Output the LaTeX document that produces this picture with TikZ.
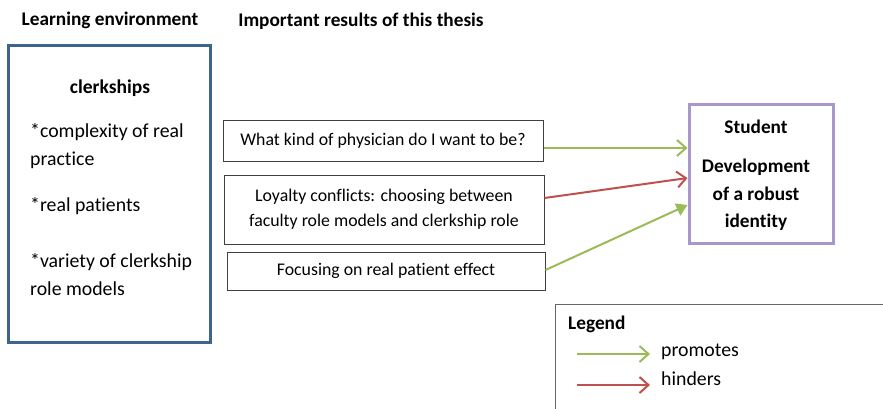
\documentclass[tikz,border=0pt]{standalone}
\usepackage{fontspec}
\setmainfont{Carlito}[Ligatures=NoCommon]
\usetikzlibrary{arrows.meta}
\definecolor{pgreen}{HTML}{9BBB59}
\definecolor{hred}{HTML}{C0504D}
\definecolor{lblue}{HTML}{3F6390}
\definecolor{lpurple}{HTML}{A897CB}
\definecolor{dgray}{HTML}{404040}
\tikzset{
  titletext/.style={font=\fontsize{19.3}{22}\selectfont\bfseries, inner sep=0pt},
  lefttext/.style={font=\fontsize{19.8}{22}\selectfont, anchor=west, inner sep=0pt},
  resbox/.style={draw=dgray, line width=1pt, minimum width=320pt, inner sep=0pt, align=center, font=\fontsize{17.8}{25}\selectfont},
  promote/.style={draw=pgreen, line width=2pt, -{Straight Barb[length=9pt,width=16pt,line width=2pt]}},
  hinder/.style={draw=hred, line width=2pt, -{Straight Barb[length=9pt,width=16pt,line width=2pt]}},
  promotefill/.style={draw=pgreen, line width=2pt, -{Triangle[length=11pt,width=13pt]}, fill=pgreen},
}
\begin{document}
\begin{tikzpicture}[x=1pt,y=-1pt]
\useasboundingbox (0,0) rectangle (883,408);
\clip (0,0) rectangle (883,408);
\fill[white] (0,0) rectangle (883,408);
% titles
\node[titletext] (t1) at (110,20) {Learning environment};
\node[titletext] (t2) at (361,21) {Important results of this thesis};
% left box
\node[draw=lblue, line width=3pt, minimum width=202pt, minimum height=297pt, inner sep=0pt] (env) at (109,193.5) {};
\node[font=\fontsize{19.5}{22}\selectfont\bfseries, inner sep=0pt] (clk) at (110,88) {clerkships};
\node[lefttext] (l1) at (30,132) {*complexity of real};
\node[lefttext] (l2) at (30,160) {practice};
\node[lefttext] (l3) at (30,206) {*real patients};
\node[lefttext] (l4) at (30,262) {*variety of clerkship};
\node[lefttext] (l5) at (30,289) {role models};
% result boxes
\node[resbox, minimum height=41pt] (b1) at (383,140.5) {What kind of physician do I want to be?};
\node[resbox, minimum height=69pt] (b2) at (384,209.5) {Loyalty conflicts: choosing between\\faculty role models and clerkship role};
\node[resbox, minimum width=318pt, minimum height=38pt] (b3) at (386,271) {Focusing on real patient effect};
% target box
\node[draw=lpurple, line width=3pt, minimum width=144pt, minimum height=139pt, inner sep=0pt] (tgt) at (761,173.5) {};
\node[font=\fontsize{19.3}{22}\selectfont\bfseries, inner sep=0pt] (s1) at (756,127) {Student};
\node[font=\fontsize{19.3}{27.5}\selectfont\bfseries, align=center, inner sep=0pt] (s2) at (756,195) {Development\\of a robust\\identity};
% arrows
\draw[promote] ([yshift=-7.5pt]b1.east) -- ([yshift=25.5pt]tgt.west);
\draw[hinder] ([yshift=11.5pt]b2.east) -- ([yshift=-4.5pt]tgt.west);
\draw[promotefill] ([yshift=1pt]b3.east) -- ([yshift=-31.5pt]tgt.west);
% legend
\draw[dgray!80, line width=1pt] (555,420) -- (555,304) -- (900,304);
\node[font=\fontsize{19.3}{22}\selectfont\bfseries, anchor=west, inner sep=0pt] (lg) at (568,324) {Legend};
\coordinate (pa) at (577,354);
\coordinate (pb) at (650,354);
\coordinate (ha) at (577,385);
\coordinate (hb) at (650,385);
\draw[promote] (pa) -- (pb);
\draw[hinder] (ha) -- (hb);
\node[font=\fontsize{19.8}{22}\selectfont, anchor=west, inner sep=0pt] (pt) at (661,352) {promotes};
\node[font=\fontsize{19.8}{22}\selectfont, anchor=west, inner sep=0pt] (ht) at (661,379) {hinders};
\end{tikzpicture}
\end{document}
